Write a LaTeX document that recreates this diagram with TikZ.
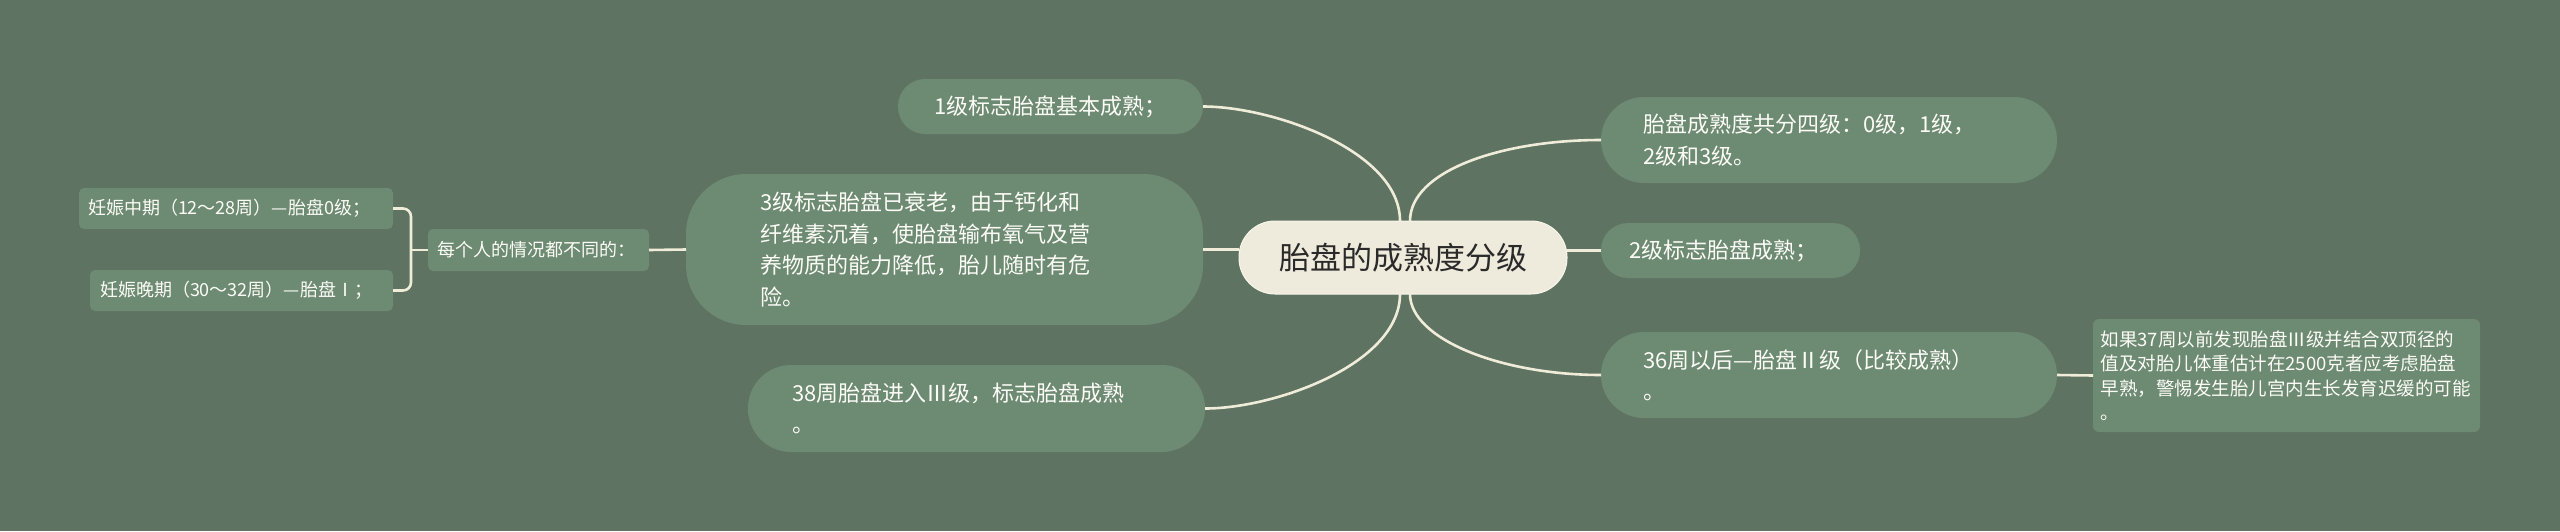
\documentclass[tikz,border=0pt]{standalone}
\usepackage{fontspec}
\usetikzlibrary{calc}
\newfontfamily\cjk{Noto Sans CJK SC}
\definecolor{bgcol}{HTML}{5F7362}
\definecolor{nodefill}{HTML}{6D8A73}
\definecolor{linecol}{HTML}{F0ECDA}
\definecolor{rootfill}{HTML}{EFEBDC}
\definecolor{rootedge}{HTML}{F8F5EA}
\definecolor{roottext}{HTML}{2A2A2A}
\definecolor{leaftext}{HTML}{FCFCF6}
\begin{document}
\begin{tikzpicture}[x=1pt,y=-1pt,
  every node/.style={inner sep=0pt, outer sep=0pt},
  rootbox/.style={fill=rootfill, draw=rootedge, line width=1pt, rounded corners=36,
    text=roottext, align=center, font=\cjk\fontsize{31}{37}\selectfont},
  pillbox/.style={fill=nodefill, text=leaftext, align=left,
    font=\cjk\fontsize{22}{31.5}\selectfont},
  smallbox/.style={fill=nodefill, text=leaftext, align=left, rounded corners=6,
    font=\cjk\fontsize{18}{24}\selectfont},
  notebox/.style={fill=nodefill, text=leaftext, align=left, rounded corners=6,
    font=\cjk\fontsize{18.5}{24.5}\selectfont},
  link/.style={draw=linecol, line width=2.6pt},
]
\fill[bgcol] (0,0) rectangle (2560,531);
\useasboundingbox (0,0) rectangle (2560,531);

% root
\node[rootbox, minimum width=328, minimum height=73] (root) at (1403,257.5) {胎盘的成熟度分级};

% left side
\node[pillbox, align=center, rounded corners=27, minimum width=305, minimum height=55] (n1) at (1050.5,106.5) {1级标志胎盘基本成熟；};
\node[pillbox, rounded corners=60, minimum width=517, minimum height=151, text width=369] (n3) at (944.5,249.5)
  {3级标志胎盘已衰老，由于钙化和\\纤维素沉着，使胎盘输布氧气及营\\养物质的能力降低，胎儿随时有危\\险。};
\node[pillbox, rounded corners=43, minimum width=457, minimum height=87, text width=369] (n38) at (976.5,408.5)
  {38周胎盘进入Ⅲ级，标志胎盘成熟\\。};
\node[smallbox, rounded corners=5, minimum width=221, minimum height=42, text width=203] (nc) at (538.5,250)
  {每个人的情况都不同的：};
\node[smallbox, rounded corners=5, minimum width=314, minimum height=41, text width=296] (na) at (236,208.5)
  {妊娠中期（12～28周）—胎盘0级；};
\node[smallbox, rounded corners=5, minimum width=303, minimum height=41, text width=283] (nb) at (241.5,290.5)
  {妊娠晚期（30～32周）—胎盘Ⅰ；};

% right side
\node[pillbox, rounded corners=43, minimum width=456, minimum height=86, text width=372] (n4) at (1829,140)
  {胎盘成熟度共分四级：0级，1级，\\2级和3级。};
\node[pillbox, rounded corners=27, minimum width=259, minimum height=55, text width=203] (n2) at (1730.5,250.5)
  {2级标志胎盘成熟；};
\node[pillbox, rounded corners=43, minimum width=456, minimum height=86, text width=372] (n36) at (1829,375)
  {36周以后—胎盘Ⅱ级（比较成熟）\\。};
\node[notebox, minimum width=387, minimum height=113, text width=372] (nr) at (2286.5,375.5)
  {如果37周以前发现胎盘Ⅲ级并结合双顶径的\\值及对胎儿体重估计在2500克者应考虑胎盘\\早熟，警惕发生胎儿宫内生长发育迟缓的可能\\。};

% connectors
\draw[link] (n3.east) -- (root.west |- n3.east);
\draw[link] (root.east |- n2.west) -- (n2.west);
\draw[link] (nc.east) -- (n3.west);
\draw[link] (n36.east) -- (nr.west);
\coordinate (spine) at (411,250);
\draw[link, rounded corners=8] (na.east) -| (spine) |- (nb.east);
\draw[link] (spine) -- (nc.west);

\draw[link] ($(root.north)+(-3,0)$) .. controls +(0,-70) and ($(n1.east)+(70,0)$) .. (n1.east);
\draw[link] ($(root.north)+(7,0)$) .. controls +(0,-50) and ($(n4.west)+(-100,0)$) .. (n4.west);
\draw[link] ($(root.south)+(-3,0)$) .. controls +(0,70) and ($(n38.east)+(70,0)$) .. (n38.east);
\draw[link] ($(root.south)+(7,0)$) .. controls +(0,45) and ($(n36.west)+(-100,0)$) .. (n36.west);
\end{tikzpicture}
\end{document}
